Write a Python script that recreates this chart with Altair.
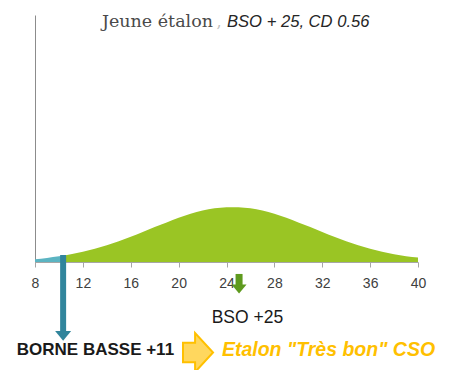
import altair as alt
import pandas as pd

# ---- data ----
curve_x = [8, 9, 10, 10.35, 11, 12, 13, 14, 15, 16, 17, 18, 19, 20, 21, 22, 23, 24,
           25, 26, 27, 28, 29, 30, 31, 32, 33, 34, 35, 36, 37, 38, 39, 40]
curve_y = [0.0028, 0.0041, 0.0057, 0.0064, 0.0078, 0.0103, 0.0133, 0.0169, 0.0210, 0.0255,
           0.0303, 0.0353, 0.0401, 0.0447, 0.0488, 0.0520, 0.0543, 0.0555,
           0.0555, 0.0543, 0.0520, 0.0488, 0.0447, 0.0401, 0.0353, 0.0303, 0.0255,
           0.0210, 0.0169, 0.0133, 0.0103, 0.0078, 0.0057, 0.0045]
lower_bound = 10.35          # "borne basse"
bso_value = 25.05            # BSO marker
tick_values = [8, 12, 16, 20, 24, 28, 32, 36, 40]

title_main = "Jeune étalon"
title_sep = ","
title_sub = "BSO + 25, CD 0.56"
label_bso = "BSO +25"
label_bound = "BORNE BASSE +11"
label_result = "Etalon \"Très bon\" CSO"

# annotation anchor positions (data units)
teal_arrow = {"x": [lower_bound], "y": [0.0071], "y2": [-0.0700], "head": [-0.0748]}
green_arrow = {"x": [bso_value], "y": [-0.0121], "y2": [-0.0250], "head": [-0.0273]}
block_arrow = {"x": [21.62], "y": [-0.0916]}

TEAL_LIGHT = "#5BB4C2"
TEAL_DARK = "#31859C"
GREEN = "#9AC524"
GREEN_DARK = "#5E9A1E"
GOLD = "#FFC000"

df = pd.DataFrame({"x": curve_x, "y": curve_y})

xscale = alt.Scale(domain=[8, 40], nice=False, zero=False)
yscale = alt.Scale(domain=[0, 0.25], nice=False, zero=True)

x_axis = alt.Axis(values=tick_values, grid=False, title=None,
                  domainColor="#A6A6A6", tickColor="#A6A6A6", tickSize=5,
                  labelFont="Liberation Sans", labelFontSize=14,
                  labelColor="#404040", labelPadding=9, labelFlush=False)
y_axis = alt.Axis(labels=False, ticks=False, grid=False, title=None,
                  domainColor="#8C8C8C")


def X(field):
    return alt.X(f"{field}:Q", scale=xscale, axis=x_axis, title=None)


def Y(field):
    return alt.Y(f"{field}:Q", scale=yscale, axis=y_axis, title=None)


base = alt.Chart(df)

green_area = base.transform_filter(alt.datum.x >= lower_bound).mark_area(
    color=GREEN, opacity=1, interpolate="monotone"
).encode(x=X("x"), y=Y("y"))

teal_area = base.transform_filter(alt.datum.x <= lower_bound).mark_area(
    color=TEAL_LIGHT, opacity=1, interpolate="monotone"
).encode(x=X("x"), y=Y("y"))

arrow_head_path = "M-1,-0.6L1,-0.6L0,0.6Z"

teal_df = pd.DataFrame(teal_arrow)
teal_shaft = alt.Chart(teal_df).mark_rule(color=TEAL_DARK, strokeWidth=6).encode(
    x=X("x"), y=Y("y"), y2="y2:Q",
)
teal_head = alt.Chart(teal_df).mark_point(
    shape=arrow_head_path, size=256, filled=True, color=TEAL_DARK, opacity=1, strokeWidth=0
).encode(x=X("x"), y=Y("head"))

green_df = pd.DataFrame(green_arrow)
green_shaft = alt.Chart(green_df).mark_rule(color=GREEN_DARK, strokeWidth=7).encode(
    x=X("x"), y=Y("y"), y2="y2:Q",
)
green_head = alt.Chart(green_df).mark_point(
    shape=arrow_head_path, size=225, filled=True, color=GREEN_DARK, opacity=1, strokeWidth=0
).encode(x=X("x"), y=Y("head"))

block_path = "M-0.77,-0.5L-0.15,-0.5L-0.15,-1L0.77,0L-0.15,1L-0.15,0.5L-0.77,0.5Z"
block = alt.Chart(pd.DataFrame(block_arrow)).mark_point(
    shape=block_path, size=1521, filled=True, fill="#FFD75E", stroke=GOLD,
    strokeWidth=2, opacity=1, fillOpacity=1
).encode(x=X("x"), y=Y("y"))

texts = pd.DataFrame({
    "x": [22.87, 23.37, 24.04, 25.75, 13.05, 32.52],
    "y": [0.2379, 0.2379, 0.2379, -0.0617, -0.0941, -0.0951],
    "text": [title_main, title_sep, title_sub, label_bso, label_bound, label_result],
    "id": ["t1", "t2", "t3", "b1", "b2", "b3"],
})


def text_layer(tid, **kw):
    return alt.Chart(texts).transform_filter(alt.datum.id == tid).mark_text(
        baseline="alphabetic", **kw
    ).encode(x=X("x"), y=Y("y"), text="text:N")


t1 = text_layer("t1", align="right", font="DejaVu Serif", fontSize=17.5, color="#4A4A4A")
t2 = text_layer("t2", align="center", font="DejaVu Serif", fontSize=16, color="#BFBFBF")
t3 = text_layer("t3", align="left", font="Liberation Sans", fontSize=16.6,
                fontStyle="italic", color="#262626")
b1 = text_layer("b1", align="center", font="Liberation Sans", fontSize=17.5, color="#1A1A1A")
b2 = text_layer("b2", align="center", font="Liberation Sans", fontSize=17,
                fontWeight="bold", color="#1A1A1A")
b3 = text_layer("b3", align="center", font="Liberation Sans", fontSize=19.5,
                fontWeight="bold", fontStyle="italic", color=GOLD)

chart = alt.layer(
    green_area, teal_area, teal_shaft, teal_head, green_shaft, green_head, block,
    t1, t2, t3, b1, b2, b3
).properties(
    width=383, height=247,
    autosize=alt.AutoSizeParams(type="none"),
    padding={"left": 27, "top": 7, "right": 24, "bottom": 108},
    background="white",
).configure_view(stroke=None)

chart.save("out.html", embed_options={"renderer": "svg", "actions": False})
